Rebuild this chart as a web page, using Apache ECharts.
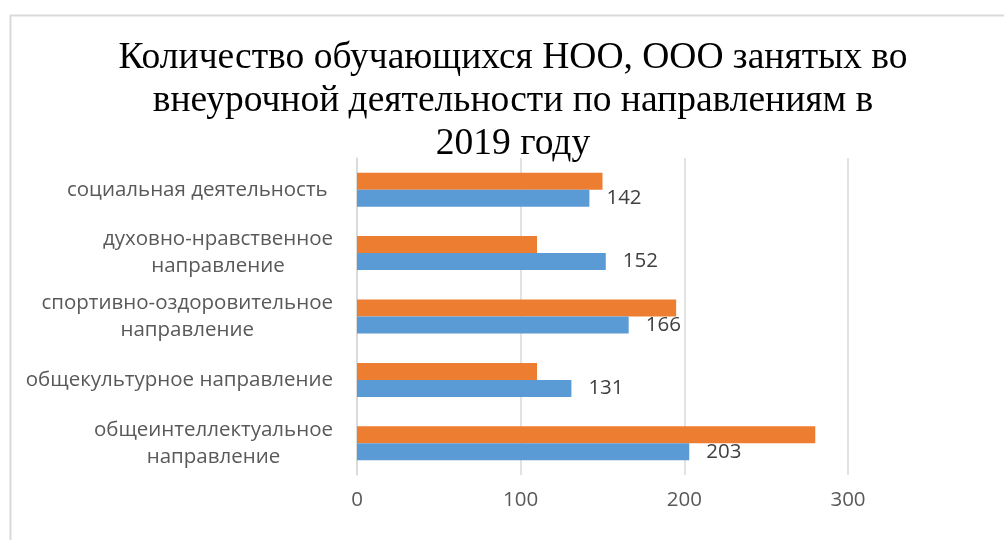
<!DOCTYPE html>
<html>
<head>
<meta charset="utf-8">
<script src="https://cdn.jsdelivr.net/npm/echarts@6/dist/echarts.min.js"></script>
<style>
html,body{margin:0;padding:0;background:#fff;}
#chart{width:1004px;height:540px;}
</style>
</head>
<body>
<div id="chart"></div>
<script>
const titleText = 'Количество обучающихся НОО, ООО занятых во\nвнеурочной деятельности по направлениям в\n2019 году';
const categories = [
  'общеинтеллектуальное\nнаправление',
  'общекультурное направление',
  'спортивно-оздоровительное\nнаправление',
  'духовно-нравственное\nнаправление',
  'социальная деятельность '
];
const blueValues = [203, 131, 166, 152, 142];
const orangeValues = [280, 110, 195, 110, 150];
const xTicks = [0, 100, 200, 300];

const chart = echarts.init(document.getElementById('chart'), null, {renderer: 'canvas'});
const labelFont = 'Open Sans';
chart.setOption({
  animation: false,
  backgroundColor: '#ffffff',
  graphic: [{
    type: 'rect',
    left: 8, top: 13,
    shape: {width: 1100, height: 700},
    style: {fill: 'none', stroke: '#d9d9d9', lineWidth: 2},
    silent: true, z: -1
  }],
  title: {
    text: titleText,
    left: 508,
    textAlign: 'center',
    top: 32,
    textStyle: {
      fontFamily: 'Liberation Serif',
      fontSize: 37.5,
      fontWeight: 'normal',
      lineHeight: 43,
      color: '#000000'
    }
  },
  grid: {left: 357, right: 156, top: 158, bottom: 65, containLabel: false},
  xAxis: {
    type: 'value',
    min: 0, max: 300, interval: 100,
    axisLine: {show: false},
    axisTick: {show: false},
    splitLine: {show: true, lineStyle: {color: '#d9d9d9', width: 1.5}},
    axisLabel: {
      margin: 15,
      color: '#595959',
      fontFamily: labelFont,
      fontSize: 20.5,
      formatter: function (v) { return xTicks.indexOf(v) >= 0 ? String(v) : ''; }
    }
  },
  yAxis: {
    type: 'category',
    data: categories,
    axisLine: {show: true, lineStyle: {color: '#d9d9d9', width: 1.5}},
    axisTick: {show: false},
    splitLine: {show: false},
    axisLabel: {
      align: 'right',
      margin: 24,
      color: '#595959',
      fontFamily: labelFont,
      fontSize: 20.5,
      lineHeight: 27,
      formatter: function (v) {
        return v.split('\n').map(function (s) { return '{c|' + s + '}'; }).join('\n');
      },
      rich: {
        c: {align: 'center', color: '#595959', fontFamily: labelFont, fontSize: 20.5, lineHeight: 27}
      }
    }
  },
  series: [
    {
      type: 'bar',
      data: orangeValues,
      barWidth: 17,
      barGap: '0%',
      itemStyle: {color: '#ed7d31'},
      label: {show: false}
    },
    {
      type: 'bar',
      data: blueValues,
      barWidth: 17,
      barGap: '0%',
      itemStyle: {color: '#5b9bd5'},
      label: {
        show: true,
        position: 'right',
        distance: 17,
        color: '#404040',
        fontFamily: labelFont,
        fontSize: 20.5
      }
    }
  ]
});
</script>
</body>
</html>
